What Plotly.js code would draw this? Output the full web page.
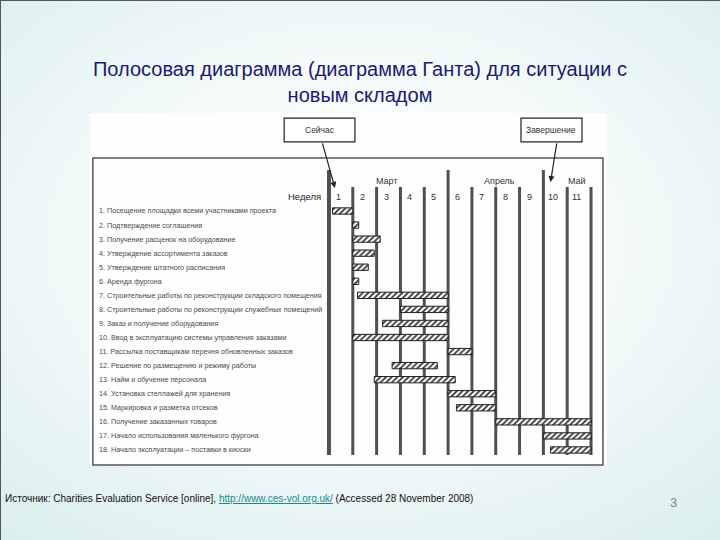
<!DOCTYPE html>
<html><head><meta charset="utf-8">
<script src="https://cdn.plot.ly/plotly-3.0.1.min.js"></script>
<style>
html,body{margin:0;padding:0;}
#chart{width:720px;height:540px;background:radial-gradient(ellipse 80% 75% at 50% 45%, #ffffff 0%, #f4fafa 45%, #d9eded 100%);box-shadow: inset 1px 1px 0 #555;}
</style></head><body><div id="chart"></div>
<script>
// ---- data ----
const tasks = [
  'Посещение площадки всеми участниками проекта',
  'Подтверждение соглашения',
  'Получение расценок на оборудование',
  'Утверждение ассортимента заказов',
  'Утверждение штатного расписания',
  'Аренда фургона',
  'Строительные работы по реконструкции складского помещения',
  'Строительные работы по реконструкции служебных помещений',
  'Заказ и получение оборудования',
  'Ввод в эксплуатацию системы управления заказами',
  'Рассылка поставщикам перечня обновленных заказов',
  'Решение по размещению и режиму работы',
  'Найм и обучение персонала',
  'Установка стеллажей для хранения',
  'Маркировка и разметка отсеков',
  'Получение заказанных товаров',
  'Начало использования маленького фургона',
  'Начало эксплуатации – поставки в киоски'
];
const startWeek = [0.15, 1.0, 1.0, 1.0, 1.0, 1.0, 1.2, 3.0, 2.25, 1.0, 5.0, 2.65, 1.9, 5.0, 5.35, 7.0, 9.0, 9.3];
const endWeek   = [1.0, 1.25, 2.15, 1.9, 1.65, 1.25, 5.0, 5.0, 5.0, 5.0, 6.0, 4.55, 5.3, 7.0, 7.0, 11.0, 11.0, 11.0];
const weekLabels = ['1','2','3','4','5','6','7','8','9','10','11'];
const months = ['Март', 'Апрель', 'Май'];
const monthBoundaryWeeks = [0, 5, 9];
const milestones = ['Сейчас', 'Завершение'];
const milestoneWeeks = [0.25, 9.3];

// ---- build ----
const rows = tasks.map((t, i) => i + 1);
const FONT = 'Liberation Sans, Arial, sans-serif';
const annotations = [];
const shapes = [];

tasks.forEach((t, i) => {
  annotations.push({x: -9.74, y: i + 1, xref: 'x', yref: 'y', text: (i + 1) + '. ' + t,
    showarrow: false, xanchor: 'left', yanchor: 'middle',
    font: {family: FONT, size: 7.2, color: '#4a4a4a'}});
});
weekLabels.forEach((w, i) => {
  annotations.push({x: i + 0.4, y: 0, xref: 'x', yref: 'y', text: w, showarrow: false,
    xanchor: 'center', yanchor: 'middle', font: {family: FONT, size: 9, color: '#333'}});
});
annotations.push({x: -0.25, y: 0, xref: 'x', yref: 'y', text: 'Неделя', showarrow: false,
  xanchor: 'right', yanchor: 'middle', font: {family: FONT, size: 9.5, color: '#222'}});
const monthX = [2.45, 7.15, 10.4];
months.forEach((m, i) => {
  annotations.push({x: monthX[i], y: -1.13, xref: 'x', yref: 'y', text: m, showarrow: false,
    xanchor: 'center', yanchor: 'middle', font: {family: FONT, size: 9, color: '#333'}});
});

// vertical week lines
for (let w = 0; w <= weekLabels.length; w++) {
  const tall = monthBoundaryWeeks.includes(w);
  shapes.push({type: 'line', xref: 'x', yref: 'y', x0: w, x1: w, y0: tall ? -1.92 : -0.71, y1: 18.35,
    line: {color: '#505050', width: w === 0 ? 4 : 3}, layer: 'below'});
}
// inner frame
shapes.push({type: 'rect', xref: 'x', yref: 'y', x0: -9.91, x1: 11.5, y0: -2.77, y1: 19.07,
  line: {color: '#555', width: 1.5}, layer: 'below'});

// milestone boxes with arrows
const boxX = [[-1.88, 1.09], [8.06, 10.62]];
const tailX = [-0.29, 9.57];
const headY = [-0.64, -1.06];
milestones.forEach((m, i) => {
  shapes.push({type: 'rect', xref: 'x', yref: 'y', x0: boxX[i][0], x1: boxX[i][1], y0: -5.61, y1: -3.91,
    line: {color: '#222', width: 1.2}, fillcolor: '#fff'});
  annotations.push({x: (boxX[i][0] + boxX[i][1]) / 2, y: -4.76, xref: 'x', yref: 'y', text: m,
    showarrow: false, font: {family: FONT, size: 8.5, color: '#333'}});
  annotations.push({x: milestoneWeeks[i], y: headY[i], ax: tailX[i], ay: -3.91, axref: 'x', ayref: 'y',
    xref: 'x', yref: 'y', text: '', showarrow: true, arrowhead: 2, arrowsize: 1, arrowwidth: 1.2,
    arrowcolor: '#222'});
});

// footer
annotations.push({x: -0.168, y: -0.0907, xref: 'paper', yref: 'paper', xanchor: 'left', yanchor: 'middle',
  showarrow: false, align: 'left',
  text: 'Источник: Charities Evaluation Service [online], <span style="text-decoration:underline;fill:#1a8a8a">http://www.ces-vol.org.uk/</span> (Accessed 28 November 2008)',
  font: {family: FONT, size: 10, color: '#111'}});
annotations.push({x: 1.1277, y: -0.1048, xref: 'paper', yref: 'paper', xanchor: 'center', yanchor: 'middle',
  showarrow: false, text: '3', font: {family: FONT, size: 13, color: '#7a8a90'}});

const trace = {
  type: 'bar', orientation: 'h', y: rows,
  x: endWeek.map((e, i) => e - startWeek[i]), base: startWeek,
  width: 0.45, hoverinfo: 'none',
  marker: {color: '#ffffff', line: {color: '#222', width: 1},
    pattern: {shape: '/', fgcolor: '#333', bgcolor: '#fff', size: 4, solidity: 0.45}}
};

const layout = {
  width: 720, height: 540,
  margin: {l: 90, r: 113, t: 113, b: 74, autoexpand: false},
  paper_bgcolor: 'rgba(0,0,0,0)', plot_bgcolor: '#fefefe',
  showlegend: false,
  title: {text: 'Полосовая диаграмма (диаграмма Ганта) для ситуации с<br>новым складом',
    font: {family: FONT, size: 20, color: '#1a1a72'}, xref: 'container', x: 0.5, xanchor: 'center',
    yref: 'container', y: 1 - 75.5 / 540, yanchor: 'middle'},
  xaxis: {range: [-10.03, 11.67], visible: false, fixedrange: true},
  yaxis: {range: [19.14, -5.97], visible: false, fixedrange: true},
  shapes: shapes, annotations: annotations
};
Plotly.newPlot('chart', [trace], layout, {displayModeBar: false, staticPlot: true});
</script></body></html>
